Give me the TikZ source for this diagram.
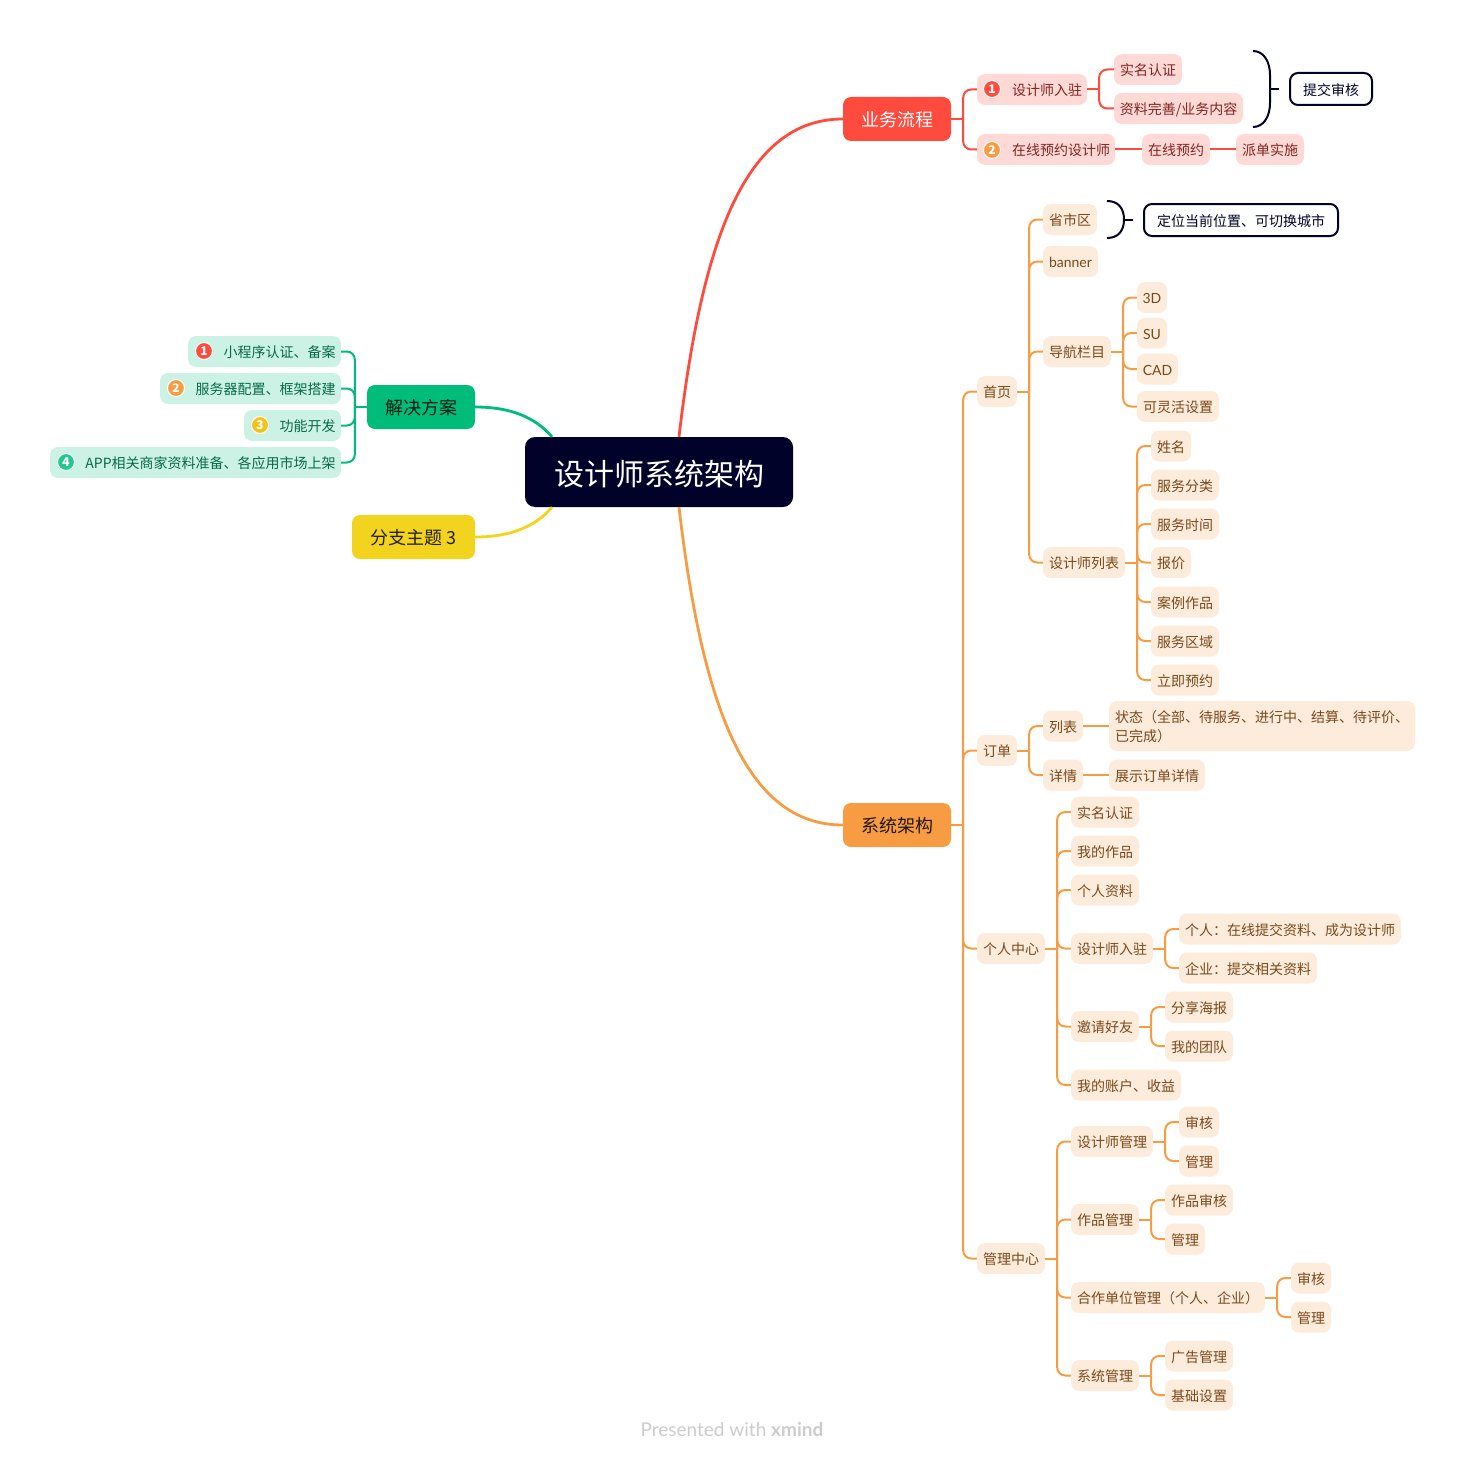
\documentclass[tikz,border=0pt]{standalone}
\usepackage{fontspec}
\setmainfont{Noto Sans CJK SC}
\newfontfamily\footfont{Lato}
\usetikzlibrary{calc}
\definecolor{ink}{HTML}{000229}
\definecolor{redc}{HTML}{FF4A3E}
\definecolor{orangec}{HTML}{F79C42}
\definecolor{greenc}{HTML}{00BC7B}
\definecolor{yellowc}{HTML}{F2D31D}
\definecolor{redf}{HTML}{FFD9D6}
\definecolor{orangef}{HTML}{FDEBDC}
\definecolor{greenf}{HTML}{CCF2E5}
\definecolor{redt}{HTML}{7F2520}
\definecolor{oranget}{HTML}{7A4A1A}
\definecolor{greent}{HTML}{066A47}
\tikzset{
  x=1pt,y=-1pt,
  box/.style={rounded corners=8pt,inner sep=0pt,minimum height=31pt,font=\fontsize{14}{19}\selectfont},
  redbox/.style={box,fill=redf,text=redt},
  orangebox/.style={box,fill=orangef,text=oranget},
  greenbox/.style={box,fill=greenf,text=greent},
  notebox/.style={box,fill=white,draw=ink,line width=2pt,text=ink,minimum height=32pt},
  mainbox/.style={rounded corners=8pt,inner sep=0pt,minimum height=44pt,font=\fontsize{18}{22}\selectfont},
  badge/.style={circle,draw=white,line width=1pt,inner sep=0pt,minimum size=17pt,text=white,font=\fontsize{12}{12}\selectfont\bfseries},
  redline/.style={draw=redc,line width=2pt,rounded corners=8pt},
  orangeline/.style={draw=orangec,line width=2pt,rounded corners=8pt},
  greenline/.style={draw=greenc,line width=2pt,rounded corners=8pt},
  bigline/.style={line width=2.8pt},
  brace/.style={draw=ink,line width=2pt},
}
\newcommand\bx[6]{\node[#1,minimum width={(#4-#3)*1pt}] (#2) at ({(#3+#4)/2},#5) {\raisebox{-1pt}[\height][\depth]{#6}};}
\newcommand\rel[3]{\path (#2.east) ++(12,0) coordinate (tj); \draw[#1] (#2.east) -- (tj); \draw[#1] (tj) |- (#3.west);}
\newcommand\lel[3]{\path (#2.west) ++(-12,0) coordinate (tj); \draw[#1] (#2.west) -- (tj); \draw[#1] (tj) |- (#3.east);}
\begin{document}
\begin{tikzpicture}
\useasboundingbox (0,0) rectangle (1465,1461);
% central and main topics
\node[rounded corners=10pt,fill=ink,text=white,inner sep=0pt,minimum width=268pt,minimum height=70pt,font=\fontsize{30}{34}\selectfont] (center) at (659,472) {\raisebox{-2.5pt}[\height][\depth]{设计师系统架构}};
\bx{mainbox,fill=redc,text=white}{flow}{843}{951}{119}{业务流程}
\bx{mainbox,fill=orangec,text=black!85!orangec}{sys}{843}{951}{825}{系统架构}
\bx{mainbox,fill=greenc,text=black!85!greenc}{sol}{367}{475}{407}{解决方案}
\bx{mainbox,fill=yellowc,text=black!85!yellowc}{br3}{352}{475}{537}{分支主题 3}
\draw[redc,bigline] ($(center.north)+(20,0)$) .. controls (702,240) and (745,119) .. (flow.west);
\draw[orangec,bigline] ($(center.south)+(20,0)$) .. controls (702,704) and (745,825) .. (sys.west);
\draw[greenc,bigline] (sol.east) .. controls (510,407) and (535,417) .. ($(center.north)+(-107,0)$);
\draw[yellowc,bigline] (br3.east) .. controls (510,537) and (535,527) .. ($(center.south)+(-107,0)$);
% business flow
\bx{redbox}{p1}{977}{1087}{89.5}{\hspace{30pt}设计师入驻}
\bx{redbox}{p2}{977}{1115}{149.5}{\hspace{30pt}在线预约设计师}
\bx{redbox}{p1a}{1114}{1182}{69.5}{实名认证}
\bx{redbox}{p1b}{1114}{1243}{108.5}{资料完善/业务内容}
\bx{redbox}{p2a}{1142}{1210}{149.5}{在线预约}
\bx{redbox}{p2b}{1236}{1304}{149.5}{派单实施}
\node[badge,fill=redc] (b1) at (992,89) {1};
\node[badge,fill=orangec] (b2) at (992,150) {2};
\rel{redline}{flow}{p1}\rel{redline}{flow}{p2}
\rel{redline}{p1}{p1a}\rel{redline}{p1}{p1b}
\draw[redline] (p2) -- (p2a);\draw[redline] (p2a) -- (p2b);
\bx{notebox}{n1}{1290}{1372}{89}{提交审核}
\bx{notebox}{n2}{1144}{1338}{220}{定位当前位置、可切换城市}
\draw[brace] (1253,51) .. controls (1264,51) and (1270,62) .. (1270,75) -- (1270,103) .. controls (1270,116) and (1264,127) .. (1253,127);
\draw[brace] (1270,89) -- (1279,89);
\draw[brace] (1107,201) .. controls (1118,201) and (1124,208) .. (1124,219.5) .. controls (1124,231) and (1118,238) .. (1107,238);
\draw[brace] (1124,219.5) -- (1133,219.5);
% system: first level
\bx{orangebox}{home}{977}{1017}{391.5}{首页}
\bx{orangebox}{order}{977}{1017}{750.5}{订单}
\bx{orangebox}{me}{977}{1045}{948.5}{个人中心}
\bx{orangebox}{admin}{977}{1045}{1258.5}{管理中心}
\rel{orangeline}{sys}{home}\rel{orangeline}{sys}{order}\rel{orangeline}{sys}{me}\rel{orangeline}{sys}{admin}
% home
\bx{orangebox}{h1}{1043}{1097}{219.5}{省市区}
\bx{orangebox}{h2}{1043}{1098}{261.5}{\footfont banner}
\bx{orangebox}{h3}{1043}{1111}{351.5}{导航栏目}
\bx{orangebox}{h4}{1043}{1125}{562.5}{设计师列表}
\rel{orangeline}{home}{h1}\rel{orangeline}{home}{h2}\rel{orangeline}{home}{h3}\rel{orangeline}{home}{h4}
\bx{orangebox}{n3a}{1137}{1167}{297.5}{\footfont 3D}
\bx{orangebox}{n3b}{1137}{1167}{333}{\footfont SU}
\bx{orangebox}{n3c}{1137}{1178}{369}{\footfont CAD}
\bx{orangebox}{n3d}{1137}{1219}{406.5}{可灵活设置}
\rel{orangeline}{h3}{n3a}\rel{orangeline}{h3}{n3b}\rel{orangeline}{h3}{n3c}\rel{orangeline}{h3}{n3d}
\bx{orangebox}{d1}{1151}{1191}{446}{姓名}
\bx{orangebox}{d2}{1151}{1219}{485}{服务分类}
\bx{orangebox}{d3}{1151}{1219}{524}{服务时间}
\bx{orangebox}{d4}{1151}{1191}{562.5}{报价}
\bx{orangebox}{d5}{1151}{1219}{602}{案例作品}
\bx{orangebox}{d6}{1151}{1219}{641}{服务区域}
\bx{orangebox}{d7}{1151}{1219}{680}{立即预约}
\rel{orangeline}{h4}{d1}\rel{orangeline}{h4}{d2}\rel{orangeline}{h4}{d3}\rel{orangeline}{h4}{d4}\rel{orangeline}{h4}{d5}\rel{orangeline}{h4}{d6}\rel{orangeline}{h4}{d7}
% order
\bx{orangebox}{o1}{1043}{1083}{726}{列表}
\bx{orangebox}{o2}{1043}{1083}{775}{详情}
\rel{orangeline}{order}{o1}\rel{orangeline}{order}{o2}
\bx{orangebox,minimum height=50pt}{o1a}{1109}{1415}{726}{\parbox[c]{294pt}{状态（全部、待服务、进行中、结算、待评价、\\已完成）}}
\bx{orangebox}{o2a}{1109}{1205}{775}{展示订单详情}
\draw[orangeline] (o1) -- (o1a);\draw[orangeline] (o2) -- (o2a);
% personal centre
\bx{orangebox}{m1}{1071}{1139}{812}{实名认证}
\bx{orangebox}{m2}{1071}{1139}{851}{我的作品}
\bx{orangebox}{m3}{1071}{1139}{890}{个人资料}
\bx{orangebox}{m4}{1071}{1153}{948.5}{设计师入驻}
\bx{orangebox}{m5}{1071}{1139}{1026.5}{邀请好友}
\bx{orangebox}{m6}{1071}{1181}{1085}{我的账户、收益}
\rel{orangeline}{me}{m1}\rel{orangeline}{me}{m2}\rel{orangeline}{me}{m3}\rel{orangeline}{me}{m4}\rel{orangeline}{me}{m5}\rel{orangeline}{me}{m6}
\bx{orangebox}{m4a}{1179}{1401}{929}{个人：在线提交资料、成为设计师}
\bx{orangebox}{m4b}{1179}{1317}{968}{企业：提交相关资料}
\rel{orangeline}{m4}{m4a}\rel{orangeline}{m4}{m4b}
\bx{orangebox}{m5a}{1165}{1233}{1007}{分享海报}
\bx{orangebox}{m5b}{1165}{1233}{1046}{我的团队}
\rel{orangeline}{m5}{m5a}\rel{orangeline}{m5}{m5b}
% admin centre
\bx{orangebox}{a1}{1071}{1153}{1141.5}{设计师管理}
\bx{orangebox}{a2}{1071}{1139}{1219.5}{作品管理}
\bx{orangebox}{a3}{1071}{1265}{1297.5}{合作单位管理（个人、企业）}
\bx{orangebox}{a4}{1071}{1139}{1375.5}{系统管理}
\rel{orangeline}{admin}{a1}\rel{orangeline}{admin}{a2}\rel{orangeline}{admin}{a3}\rel{orangeline}{admin}{a4}
\bx{orangebox}{a1a}{1179}{1219}{1122}{审核}
\bx{orangebox}{a1b}{1179}{1219}{1161}{管理}
\rel{orangeline}{a1}{a1a}\rel{orangeline}{a1}{a1b}
\bx{orangebox}{a2a}{1165}{1233}{1200}{作品审核}
\bx{orangebox}{a2b}{1165}{1205}{1239}{管理}
\rel{orangeline}{a2}{a2a}\rel{orangeline}{a2}{a2b}
\bx{orangebox}{a3a}{1291}{1331}{1278}{审核}
\bx{orangebox}{a3b}{1291}{1331}{1317}{管理}
\rel{orangeline}{a3}{a3a}\rel{orangeline}{a3}{a3b}
\bx{orangebox}{a4a}{1165}{1233}{1356}{广告管理}
\bx{orangebox}{a4b}{1165}{1233}{1395}{基础设置}
\rel{orangeline}{a4}{a4a}\rel{orangeline}{a4}{a4b}
% solution
\bx{greenbox}{s1}{188}{341}{351.5}{\hspace{30pt}小程序认证、备案}
\bx{greenbox}{s2}{160}{341}{388.5}{\hspace{30pt}服务器配置、框架搭建}
\bx{greenbox}{s3}{244}{341}{425.5}{\hspace{30pt}功能开发}
\bx{greenbox}{s4}{50}{341}{462.5}{\hspace{30pt}APP相关商家资料准备、各应用市场上架}
\node[badge,fill=redc] (g1) at (204,351) {1};
\node[badge,fill=orangec] (g2) at (176,388) {2};
\node[badge,fill=yellowc!80!orange] (g3) at (260,425) {3};
\node[badge,fill=greenc!85!white] (g4) at (66,462) {4};
\lel{greenline}{sol}{s1}\lel{greenline}{sol}{s2}\lel{greenline}{sol}{s3}\lel{greenline}{sol}{s4}
% footer
\node[inner sep=0pt,text=black!20,font=\footfont\fontsize{19}{23}\selectfont] (foot) at (732,1430) {Presented with \textbf{xmind}};
\end{tikzpicture}
\end{document}
